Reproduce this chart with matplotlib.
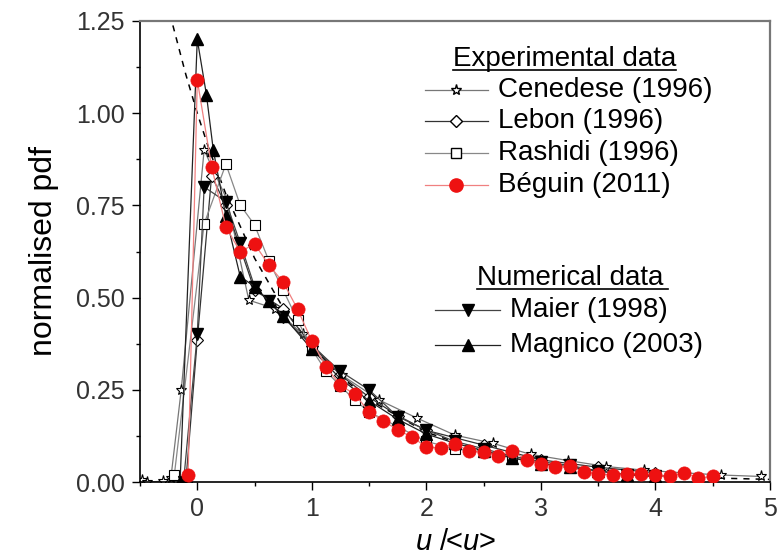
import matplotlib
matplotlib.use("Agg")
import matplotlib.pyplot as plt

plt.rcParams['font.family'] = ['Liberation Sans', 'DejaVu Sans']
plt.rcParams['mathtext.fontset'] = 'custom'
plt.rcParams['mathtext.it'] = 'Liberation Sans:italic'
plt.rcParams['mathtext.rm'] = 'Liberation Sans'

# ---- data ----
cenedese_x = [-0.48, -0.44, -0.3, -0.23, -0.14, 0.06, 0.26, 0.45, 0.68, 0.92, 1.26, 1.59,
              1.92, 2.25, 2.58, 2.91, 3.24, 3.57, 3.9, 4.24, 4.57, 4.92]
cenedese_y = [0.005, 0.0, 0.002, 0.012, 0.25, 0.90, 0.765, 0.493, 0.47, 0.40, 0.29, 0.222,
              0.173, 0.127, 0.105, 0.075, 0.058, 0.042, 0.032, 0.025, 0.019, 0.015]

lebon_x = [-0.1, 0.0, 0.125, 0.25, 0.5, 0.75, 1.0, 1.25, 1.5, 1.75, 2.0, 2.5, 3.0, 3.5, 4.0]
lebon_y = [0.0, 0.385, 0.83, 0.75, 0.52, 0.47, 0.37, 0.29, 0.23, 0.18, 0.14, 0.10, 0.06,
           0.04, 0.025]

rashidi_x = [-0.2, 0.06, 0.25, 0.375, 0.5, 0.625, 0.75, 0.875, 1.0, 1.125, 1.25, 1.375, 1.5,
             1.75, 2.0, 2.25, 2.5, 2.75, 3.0, 3.25]
rashidi_y = [0.02, 0.70, 0.862, 0.751, 0.697, 0.60, 0.52, 0.44, 0.36, 0.30, 0.26, 0.222, 0.19,
             0.15, 0.11, 0.09, 0.08, 0.07, 0.05, 0.04]

beguin_x = [-0.08, 0.0, 0.125, 0.25, 0.375, 0.5, 0.625, 0.75, 0.875, 1.0, 1.125, 1.25, 1.375,
            1.5, 1.625, 1.75, 1.875, 2.0, 2.125, 2.25, 2.375, 2.5, 2.625, 2.75, 2.875, 3.0,
            3.125, 3.25, 3.375, 3.5, 3.625, 3.75, 3.875, 4.0, 4.125, 4.25, 4.375, 4.5]
beguin_y = [0.02, 1.09, 0.855, 0.692, 0.624, 0.646, 0.588, 0.542, 0.469, 0.382, 0.312, 0.262,
            0.238, 0.19, 0.166, 0.141, 0.122, 0.095, 0.092, 0.103, 0.084, 0.081, 0.071, 0.084,
            0.06, 0.049, 0.041, 0.043, 0.028, 0.022, 0.019, 0.023, 0.023, 0.019, 0.015, 0.024,
            0.011, 0.015]

maier_x = [-0.12, 0.0, 0.06, 0.25, 0.375, 0.5, 0.625, 0.75, 1.0, 1.25, 1.5, 1.75, 2.0, 2.25,
           2.5, 2.75, 3.0, 3.25, 3.5, 3.75, 4.0]
maier_y = [0.0, 0.40, 0.80, 0.76, 0.648, 0.53, 0.49, 0.447, 0.37, 0.30, 0.25, 0.177, 0.141,
           0.11, 0.09, 0.07, 0.055, 0.045, 0.03, 0.02, 0.015]

magnico_x = [-0.15, 0.0, 0.08, 0.14, 0.25, 0.375, 0.5, 0.625, 0.75, 1.0, 1.25, 1.5, 1.75, 2.0,
             2.25, 2.5, 2.75, 3.0, 3.25, 3.5, 3.75, 4.0]
magnico_y = [0.0, 1.2, 1.05, 0.9, 0.72, 0.557, 0.53, 0.49, 0.45, 0.36, 0.28, 0.22, 0.17, 0.13,
             0.105, 0.085, 0.065, 0.05, 0.04, 0.03, 0.02, 0.015]

# dashed reference curve
ref_x = [-0.24, -0.1, 0.0, 0.1, 0.25, 0.5, 0.75, 1.0, 1.25, 1.5, 2.0, 2.5, 3.0, 3.5, 4.0, 4.5, 5.0]
ref_y = [1.27, 1.105, 1.0, 0.905, 0.78, 0.607, 0.472, 0.368, 0.287, 0.223, 0.135, 0.082, 0.05,
         0.03, 0.018, 0.011, 0.007]

fig = plt.figure(figsize=(7.79, 5.58), dpi=100)
ax = fig.add_axes([140 / 779, 1 - 482 / 558, 630 / 779, 461 / 558])

styles = {
    'cenedese': dict(color='#777777', lw=0.9, marker='*', ms=8, mfc='white', mec='black', mew=0.8),
    'lebon': dict(color='#333333', lw=0.9, marker='D', ms=6, mfc='white', mec='black', mew=0.8),
    'rashidi': dict(color='#888888', lw=0.9, marker='s', ms=7, mfc='white', mec='black', mew=0.8),
    'beguin': dict(color='#f08080', lw=0.9, marker='o', ms=9.5, mfc='#ee1111', mec='#ee1111', mew=0.5),
    'maier': dict(color='#444444', lw=0.9, marker='v', ms=9, mfc='black', mec='black'),
    'magnico': dict(color='#222222', lw=0.9, marker='^', ms=9, mfc='black', mec='black'),
}

ax.plot(ref_x, ref_y, color='black', lw=1.1, ls=(0, (4, 4)), zorder=1)
ax.plot(cenedese_x, cenedese_y, **styles['cenedese'], zorder=2)
ax.plot(lebon_x, lebon_y, **styles['lebon'], zorder=2)
ax.plot(rashidi_x, rashidi_y, **styles['rashidi'], zorder=2)
ax.plot(maier_x, maier_y, **styles['maier'], zorder=3)
ax.plot(magnico_x, magnico_y, **styles['magnico'], zorder=3)
ax.plot(beguin_x, beguin_y, **styles['beguin'], zorder=4)

ax.set_xlim(-0.5, 5)
ax.set_ylim(0, 1.25)
ax.set_xticks([0, 1, 2, 3, 4, 5])
ax.set_xticks([-0.5, 0.5, 1.5, 2.5, 3.5, 4.5], minor=True)
ax.set_yticks([0, 0.25, 0.5, 0.75, 1.0, 1.25])
ax.set_yticks([0.125, 0.375, 0.625, 0.875, 1.125], minor=True)
ax.set_yticklabels(['0.00', '0.25', '0.50', '0.75', '1.00', '1.25'])
ax.tick_params(which='major', direction='out', length=6, width=1, labelsize=18,
               labelcolor='#333333', pad=5)
ax.tick_params(which='minor', direction='out', length=3, width=1)

for s in ['top', 'right']:
    ax.spines[s].set_color('#777777')
    ax.spines[s].set_linewidth(1.6)
for s in ['left', 'bottom']:
    ax.spines[s].set_linewidth(1.2)

ax.set_ylabel('normalised pdf', fontsize=23, labelpad=12)
ax.set_xlabel(r'$\mathit{u}$ /<$\mathit{u}$>', fontsize=21, labelpad=5)


# ---- hand-built legend, Origin style ----
def header(x0, x1, yb, yu, txt):
    ax.text(x0, yb, txt, transform=ax.transAxes, fontsize=20, va='baseline', ha='left')
    ax.plot([x0, x1], [yu, yu], transform=ax.transAxes, color='black', lw=1.2, clip_on=False)


def row(y, x0, x1, xm, xt, key, txt):
    st = dict(styles[key])
    ax.plot([x0, x1], [y, y], transform=ax.transAxes, color=st['color'], lw=st['lw'],
            clip_on=False, zorder=5)
    ax.plot([xm], [y], transform=ax.transAxes, ls='none', marker=st['marker'], ms=st['ms'],
            mfc=st['mfc'], mec=st['mec'], clip_on=False, zorder=6)
    ax.text(xt, y, txt, transform=ax.transAxes, fontsize=20, va='center', ha='left')


header(0.497, 0.850, 0.902, 0.893, 'Experimental data')
row(0.850, 0.452, 0.552, 0.502, 0.568, 'cenedese', 'Cenedese (1996)')
row(0.782, 0.452, 0.552, 0.502, 0.568, 'lebon', 'Lebon (1996)')
row(0.714, 0.452, 0.552, 0.502, 0.568, 'rashidi', 'Rashidi (1996)')
row(0.644, 0.452, 0.552, 0.502, 0.568, 'beguin', 'Béguin (2011)')

header(0.535, 0.838, 0.427, 0.418, 'Numerical data')
row(0.373, 0.468, 0.571, 0.521, 0.587, 'maier', 'Maier (1998)')
row(0.297, 0.468, 0.571, 0.521, 0.587, 'magnico', 'Magnico (2003)')

fig.savefig('out.png', dpi=100)
